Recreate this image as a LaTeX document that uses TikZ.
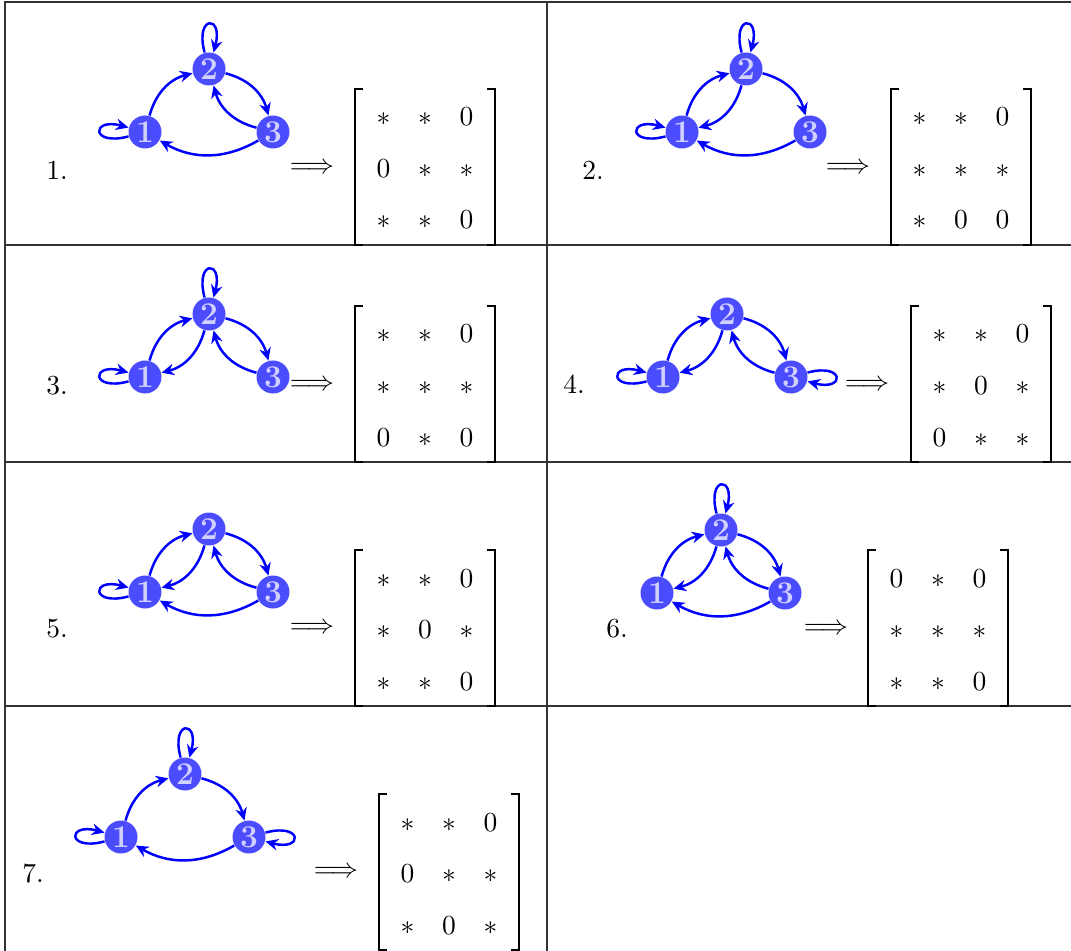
\documentclass[tikz,border=0pt]{standalone}
\usetikzlibrary{arrows.meta}
\newcommand\mytri[3]{%
  \node[vtx] (#1a) at (#2,-#3) {1};
  \node[vtx] (#1b) at ({#2+64},{-#3+63}) {2};
  \node[vtx] (#1c) at ({#2+128},-#3) {3};
}
\newcommand\mymtx[4]{%
  \foreach \e [count=\i from 0] in {#4} {
    \pgfmathtruncatemacro\rr{\i/3}
    \pgfmathtruncatemacro\cc{\i-3*\rr}
    \node[ent] (#1-\rr-\cc) at ({#2+41.5*(\cc-1)},{-#3+42-51.5*\rr}) {$\e$};
  }
  \coordinate (#1tl) at ({#2-70},{-#3+79});
  \coordinate (#1bl) at ({#2-70},{-#3-77});
  \coordinate (#1tr) at ({#2+70},{-#3+79});
  \coordinate (#1br) at ({#2+70},{-#3-77});
  \draw[brk] ([xshift=8*0.3636pt]#1tl) -- (#1tl) -- (#1bl) -- ([xshift=8*0.3636pt]#1bl);
  \draw[brk] ([xshift=-8*0.3636pt]#1tr) -- (#1tr) -- (#1br) -- ([xshift=-8*0.3636pt]#1br);
}
\begin{document}
\begin{tikzpicture}[x=0.3636pt,y=0.3636pt,
  vtx/.style={circle,fill=blue!70,text=blue!18,inner sep=0pt,minimum size=12pt,font=\fontsize{11.5}{13}\bfseries},
  arr/.style={draw=blue,line width=0.9pt,-{Stealth[length=4.6pt,width=4.2pt,inset=1.5pt]}},
  edge/.style={arr,bend left=30},
  rule/.style={draw=black!80,line width=0.5pt},
  brk/.style={draw=black,line width=0.9pt},
  ent/.style={inner sep=0pt,anchor=base},
  lbl/.style={inner sep=0pt}]
\useasboundingbox (0,-951) rectangle (1071,0);
% table rules
\draw[rule] (4,-2) -- (1071,-2);
\draw[rule] (5,-2) -- (5,-951);
\draw[rule] (547,-2) -- (547,-951);
\draw[rule] (4,-245) -- (1071,-245);
\draw[rule] (4,-462) -- (1071,-462);
\draw[rule] (4,-706) -- (1071,-706);
% cell 1
\node[lbl] (l1) at (57,-170) {1.};
\mytri{p}{145}{132}
\draw[arr] (pa) to[loop left] (pa);
\draw[arr] (pb) to[loop above] (pb);
\draw[edge] (pa) to (pb);
\draw[edge] (pb) to (pc);
\draw[edge] (pc) to (pb);
\draw[edge] (pc) to (pa);
\node[lbl] (i1) at (312,-168) {$\Longrightarrow$};
\mymtx{m1}{425}{168}{*,*,0,0,*,*,*,*,0}
% cell 2
\node[lbl] (l2) at (593,-170) {2.};
\mytri{q}{682}{132}
\draw[arr] (qa) to[loop left] (qa);
\draw[arr] (qb) to[loop above] (qb);
\draw[edge] (qa) to (qb);
\draw[edge] (qb) to (qa);
\draw[edge] (qb) to (qc);
\draw[edge] (qc) to (qa);
\node[lbl] (i2) at (848,-168) {$\Longrightarrow$};
\mymtx{m2}{961}{168}{*,*,0,*,*,*,*,0,0}
% cell 3
\node[lbl] (l3) at (57,-386) {3.};
\mytri{r}{145}{377}
\draw[arr] (ra) to[loop left] (ra);
\draw[arr] (rb) to[loop above] (rb);
\draw[edge] (ra) to (rb);
\draw[edge] (rb) to (ra);
\draw[edge] (rb) to (rc);
\draw[edge] (rc) to (rb);
\node[lbl] (i3) at (312,-385) {$\Longrightarrow$};
\mymtx{m3}{425}{385}{*,*,0,*,*,*,0,*,0}
% cell 4
\node[lbl] (l4) at (574,-384) {4.};
\mytri{s}{663}{377}
\draw[arr] (sa) to[loop left] (sa);
\draw[arr] (sc) to[loop right] (sc);
\draw[edge] (sa) to (sb);
\draw[edge] (sb) to (sa);
\draw[edge] (sb) to (sc);
\draw[edge] (sc) to (sb);
\node[lbl] (i4) at (867,-385) {$\Longrightarrow$};
\mymtx{m4}{981}{385}{*,*,0,*,0,*,0,*,*}
% cell 5
\node[lbl] (l5) at (57,-629) {5.};
\mytri{t}{145}{592}
\draw[arr] (ta) to[loop left] (ta);
\draw[edge] (ta) to (tb);
\draw[edge] (tb) to (ta);
\draw[edge] (tb) to (tc);
\draw[edge] (tc) to (tb);
\draw[edge] (tc) to (ta);
\node[lbl] (i5) at (312,-628) {$\Longrightarrow$};
\mymtx{m5}{425}{629}{*,*,0,*,0,*,*,*,0}
% cell 6
\node[lbl] (l6) at (617,-629) {6.};
\mytri{u}{657}{593}
\draw[arr] (ub) to[loop above] (ub);
\draw[edge] (ua) to (ub);
\draw[edge] (ub) to (ua);
\draw[edge] (ub) to (uc);
\draw[edge] (uc) to (ub);
\draw[edge] (uc) to (ua);
\node[lbl] (i6) at (826,-629) {$\Longrightarrow$};
\mymtx{m6}{938}{629}{0,*,0,*,*,*,*,*,0}
% cell 7
\node[lbl] (l7) at (33,-873) {7.};
\mytri{v}{121}{837}
\draw[arr] (va) to[loop left] (va);
\draw[arr] (vb) to[loop above] (vb);
\draw[arr] (vc) to[loop right] (vc);
\draw[edge] (va) to (vb);
\draw[edge] (vb) to (vc);
\draw[edge] (vc) to (va);
\node[lbl] (i7) at (336,-872) {$\Longrightarrow$};
\mymtx{m7}{449}{873}{*,*,0,0,*,*,*,0,*}
\end{tikzpicture}
\end{document}
